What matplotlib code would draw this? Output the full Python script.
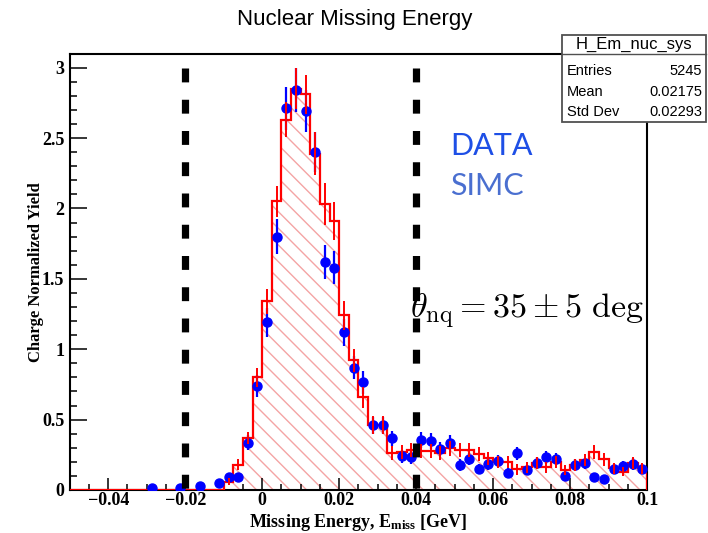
import numpy as np
import matplotlib
matplotlib.use("Agg")
import matplotlib.pyplot as plt
from matplotlib.patches import Rectangle
from matplotlib.lines import Line2D
from matplotlib.ticker import MultipleLocator, FuncFormatter

plt.rcParams["lines.scale_dashes"] = False
plt.rcParams["hatch.linewidth"] = 1.0
plt.rcParams["mathtext.fontset"] = "custom"
plt.rcParams["mathtext.rm"] = "Liberation Serif:bold"
plt.rcParams["mathtext.it"] = "Liberation Serif:bold:italic"
plt.rcParams["mathtext.bf"] = "Liberation Serif:bold"

# Histogram binning: 60 bins over the missing-energy range
x_min, x_max, n_bins = -0.05, 0.10, 60

# SIMC (charge normalized), one value per bin
simc_values = [0, 0, 0, 0, 0, 0, 0, 0, 0, 0, 0, 0, 0, 0, 0, 0,
               0.06, 0.18, 0.37, 0.80, 1.34, 2.05, 2.63, 2.85, 2.81, 2.39,
               2.03, 1.91, 1.24, 0.92, 0.66, 0.46, 0.46, 0.265, 0.27, 0.285,
               0.28, 0.28, 0.265, 0.295, 0.285, 0.285, 0.255, 0.225, 0.20, 0.20,
               0.147, 0.16, 0.19, 0.16, 0.20, 0.142, 0.178, 0.213, 0.272, 0.218,
               0.154, 0.13, 0.194, 0.154]
simc_errors = [0, 0, 0, 0, 0, 0, 0, 0, 0, 0, 0, 0, 0, 0, 0, 0,
               0.025, 0.04, 0.045, 0.07, 0.09, 0.11, 0.125, 0.145, 0.14, 0.15,
               0.148, 0.136, 0.10, 0.08, 0.075, 0.065, 0.065, 0.05, 0.05, 0.05,
               0.05, 0.05, 0.05, 0.052, 0.05, 0.05, 0.048, 0.045, 0.043, 0.043,
               0.037, 0.038, 0.042, 0.038, 0.043, 0.036, 0.04, 0.044, 0.05, 0.045,
               0.037, 0.034, 0.042, 0.037]

# Data (charge normalized), one value per bin; empty bins are 0
data_values = [0, 0, 0, 0, 0, 0, 0, 0, 0.012, 0, 0, 0.015, 0, 0.03, 0, 0.047,
               0.09, 0.09, 0.336, 0.74, 1.19, 1.80, 2.71, 2.84, 2.69, 2.40,
               1.62, 1.58, 1.12, 0.87, 0.765, 0.46, 0.46, 0.367, 0.24, 0.232,
               0.355, 0.348, 0.29, 0.336, 0.178, 0.22, 0.149, 0.185, 0.206, 0.123,
               0.26, 0.142, 0.194, 0.232, 0.218, 0.10, 0.178, 0.19, 0.095, 0.078,
               0.147, 0.17, 0.185, 0.147]
data_errors = [0, 0, 0, 0, 0, 0, 0, 0, 0.01, 0, 0, 0.012, 0, 0.016, 0, 0.02,
               0.028, 0.028, 0.055, 0.08, 0.10, 0.125, 0.155, 0.155, 0.15, 0.14,
               0.12, 0.12, 0.095, 0.085, 0.08, 0.06, 0.06, 0.055, 0.045, 0.045,
               0.055, 0.055, 0.05, 0.054, 0.04, 0.044, 0.036, 0.04, 0.042, 0.033,
               0.047, 0.035, 0.041, 0.045, 0.043, 0.03, 0.04, 0.04, 0.029, 0.026,
               0.036, 0.038, 0.04, 0.036]

# Missing-energy cut boundaries
cut_edges = [-0.02, 0.04]

stat_rows = [("Entries", "5245"), ("Mean", "0.02175"), ("Std Dev", "0.02293")]

edges = np.linspace(x_min, x_max, n_bins + 1)
centers = 0.5 * (edges[:-1] + edges[1:])
simc = np.array(simc_values)
simc_err = np.array(simc_errors)
data = np.array(data_values)
data_err = np.array(data_errors)

W, H = 708, 533
fig = plt.figure(figsize=(W / 100, H / 100), dpi=100)
ax = fig.add_axes([69.7 / W, 43 / H, (647.2 - 69.7) / W, (490 - 54) / H])

red = "#ff0000"
blue = "#0000ff"

# SIMC: hatched fill + step outline
ax.stairs(simc, edges, fill=True, hatch="\\\\", facecolor="none",
          edgecolor="#f4a4a4", linewidth=0, zorder=1)
ax.stairs(simc, edges, color=red, linewidth=1.6, zorder=3)

# Data points
m = data > 0
ax.errorbar(centers[m], data[m], yerr=data_err[m], fmt="o", color=blue,
            markersize=6.5, elinewidth=1.6, capsize=0, zorder=4)

# SIMC error bars
ms = simc > 0
ax.errorbar(centers[ms], simc[ms], yerr=simc_err[ms], fmt="none", ecolor=red,
            elinewidth=1.4, capsize=0, zorder=5)

# Cut lines
for xc in cut_edges:
    ax.add_line(Line2D([xc, xc], [3.0, 0.0], color="black", linewidth=5.2,
                       linestyle=(0, (10, 12.5)), dash_capstyle="butt", zorder=6))

ax.set_xlim(x_min, x_max)
ax.set_ylim(0, 3.097)

ax.xaxis.set_major_locator(MultipleLocator(0.02))
ax.xaxis.set_minor_locator(MultipleLocator(0.005))
ax.yaxis.set_major_locator(MultipleLocator(0.5))
ax.yaxis.set_minor_locator(MultipleLocator(0.1))


def fmt(v, _):
    s = "%g" % round(v, 6)
    return s.replace("-", "\u2212")


ax.xaxis.set_major_formatter(FuncFormatter(fmt))
ax.yaxis.set_major_formatter(FuncFormatter(fmt))

tick_font = {"family": "Liberation Serif", "weight": "bold", "size": 13}
ax.tick_params(axis="x", which="major", direction="in", length=8.6, width=1.1,
               pad=1.5, top=False)
ax.tick_params(axis="x", which="minor", direction="in", length=4.3, width=1.1,
               top=False)
ax.tick_params(axis="y", which="major", direction="in", length=12, width=1.1,
               pad=4, right=False)
ax.tick_params(axis="y", which="minor", direction="in", length=5, width=1.1,
               right=False)
for lab in ax.get_xticklabels() + ax.get_yticklabels():
    lab.set_fontproperties(tick_font)
for sp in ax.spines.values():
    sp.set_linewidth(1.5)

ax.set_xlabel(r"Missing Energy, E$_{\rm miss}$ [GeV]", family="Liberation Serif",
              weight="bold", fontsize=13)
ax.xaxis.set_label_coords(0.5, -0.05)
ax.set_ylabel("Charge Normalized Yield", family="Liberation Serif",
              weight="bold", fontsize=12)
ax.yaxis.set_label_coords(-0.045, 0.5)

# Title
fig.text(355 / W, 1 - 19 / H, "Nuclear Missing Energy", ha="center",
         va="center", family="Liberation Sans", fontsize=16)

# Legend-like labels
fig.text(450 / W, 1 - 146 / H, "DATA", color="#1e4fe6", family="Lato",
         fontsize=22, ha="left", va="center")
fig.text(450 / W, 1 - 186 / H, "SIMC", color="#4a6fd0", family="Lato",
         fontsize=22, ha="left", va="center")

# Angle annotation
fig.text(410 / W, 1 - 311 / H, r"$\theta_{\rm nq} = 35 \pm 5\ {\rm deg}$",
         math_fontfamily="cm", fontsize=24.5, ha="left", va="center",
         color="black")

# Statistics box
bx0, by0, bx1, by1 = 561.7, 35.0, 706.0, 121.7
fig.add_artist(Rectangle((bx0 / W, 1 - by1 / H), (bx1 - bx0) / W, (by1 - by0) / H,
                         transform=fig.transFigure, facecolor="white",
                         edgecolor="#505050", linewidth=1.3, zorder=10))
fig.add_artist(Line2D([bx0 / W, bx1 / W], [1 - 53.5 / H, 1 - 53.5 / H],
                      transform=fig.transFigure, color="#505050", linewidth=1.0,
                      zorder=11))
fig.text((bx0 + bx1) / 2 / W, 1 - 44.5 / H, "H_Em_nuc_sys", ha="center",
         va="center", family="Liberation Sans", fontsize=12, zorder=12)
for (name, val), yy in zip(stat_rows, [70.5, 91.5, 111.5]):
    fig.text((bx0 + 5) / W, 1 - yy / H, name, ha="left", va="center",
             family="Liberation Sans", fontsize=10.5, zorder=12)
    fig.text((bx1 - 4) / W, 1 - yy / H, val, ha="right", va="center",
             family="Liberation Sans", fontsize=10.5, zorder=12)

fig.savefig("out.png", dpi=100)
